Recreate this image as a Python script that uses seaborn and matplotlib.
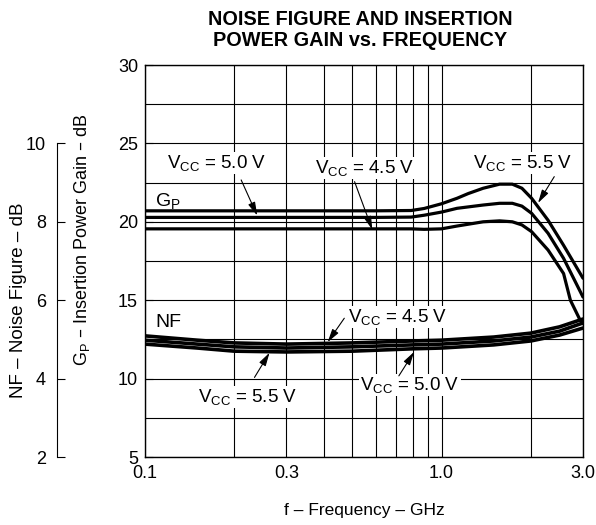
# noise figure / insertion power gain vs frequency

import pandas as pd
import seaborn as sns
import matplotlib.pyplot as plt
from matplotlib.ticker import FixedLocator, MultipleLocator, NullFormatter

# Insertion power gain Gp (dB) for each supply voltage
freq_gp_55 = [0.1, 0.2, 0.4, 0.6, 0.79, 0.874, 1.0, 1.128, 1.23, 1.382, 1.57, 1.733, 1.867, 2.013, 2.287, 2.58, 3.0]
gp_55 = [20.7, 20.7, 20.7, 20.7, 20.72, 20.85, 21.15, 21.5, 21.8, 22.14, 22.4, 22.4, 22.14, 21.5, 20.1, 18.5, 16.4]

freq_gp_50 = [0.1, 0.2, 0.4, 0.6, 0.79, 0.874, 1.0, 1.128, 1.382, 1.57, 1.733, 1.867, 2.013, 2.287, 2.58, 3.0]
gp_50 = [20.28, 20.28, 20.28, 20.28, 20.3, 20.42, 20.62, 20.86, 21.07, 21.18, 21.18, 21.0, 20.54, 19.27, 17.67, 15.2]

freq_gp_45 = [0.1, 0.2, 0.4, 0.6, 0.79, 0.874, 1.0, 1.128, 1.382, 1.57, 1.733, 1.867, 2.013, 2.287, 2.58, 2.72, 2.93, 3.0]
gp_45 = [19.55, 19.55, 19.55, 19.55, 19.55, 19.52, 19.55, 19.73, 20.0, 20.06, 20.0, 19.8, 19.37, 18.2, 16.7, 15.0, 13.75, 13.5]

# Noise figure NF (dB)
freq_nf = [0.1, 0.15, 0.2, 0.3, 0.5, 0.8, 1.0, 1.5, 2.0, 2.5, 3.0]
nf_45 = [5.09, 4.98, 4.91, 4.88, 4.91, 4.96, 4.98, 5.06, 5.16, 5.32, 5.52]
nf_50 = [4.98, 4.88, 4.81, 4.78, 4.81, 4.86, 4.88, 4.96, 5.06, 5.21, 5.42]
nf_55 = [4.88, 4.78, 4.70, 4.68, 4.70, 4.76, 4.78, 4.86, 4.96, 5.11, 5.29]

x_ticks = [0.1, 0.3, 1.0, 3.0]
x_ticklabels = ['0.1', '0.3', '1.0', '3.0']
x_minor = [0.2, 0.4, 0.5, 0.6, 0.7, 0.8, 0.9, 2.0]
gp_ticks = [5, 10, 15, 20, 25, 30]
nf_ticks = [2, 4, 6, 8, 10]

gp_df = pd.concat([
    pd.DataFrame({'f': freq_gp_55, 'val': gp_55, 'vcc': '5.5 V'}),
    pd.DataFrame({'f': freq_gp_50, 'val': gp_50, 'vcc': '5.0 V'}),
    pd.DataFrame({'f': freq_gp_45, 'val': gp_45, 'vcc': '4.5 V'}),
])
nf_df = pd.concat([
    pd.DataFrame({'f': freq_nf, 'val': nf_45, 'vcc': '4.5 V'}),
    pd.DataFrame({'f': freq_nf, 'val': nf_50, 'vcc': '5.0 V'}),
    pd.DataFrame({'f': freq_nf, 'val': nf_55, 'vcc': '5.5 V'}),
])
pal = {'4.5 V': 'black', '5.0 V': 'black', '5.5 V': 'black'}

sns.set_style('white')
plt.rcParams['font.family'] = ['Liberation Sans', 'DejaVu Sans']
plt.rcParams['mathtext.default'] = 'regular'
plt.rcParams['text.color'] = 'black'
plt.rcParams['axes.labelcolor'] = 'black'
plt.rcParams['xtick.color'] = 'black'
plt.rcParams['ytick.color'] = 'black'

fig = plt.figure(figsize=(5.96, 5.25), dpi=100)
ax = fig.add_axes([145 / 596, 1 - 457 / 525, 438 / 596, 392 / 525])

sns.lineplot(data=gp_df, x='f', y='val', hue='vcc', palette=pal, lw=2.3,
             legend=False, ax=ax, zorder=4)

ax.set_xscale('log')
ax.set_xlim(0.1, 3.0)
ax.set_ylim(5, 30)
ax.set_xticks(x_ticks)
ax.set_xticklabels(x_ticklabels)
ax.xaxis.set_minor_locator(FixedLocator(x_minor))
ax.xaxis.set_minor_formatter(NullFormatter())
ax.set_yticks(gp_ticks)
ax.yaxis.set_minor_locator(MultipleLocator(2.5))
ax.grid(True, which='both', color='black', lw=0.8)
ax.tick_params(axis='x', which='both', length=0, pad=6, labelsize=13)
ax.tick_params(axis='y', which='major', direction='in', length=6, pad=5, labelsize=13)
ax.tick_params(axis='y', which='minor', length=0)
for s in ax.spines.values():
    s.set_color('black')
    s.set_linewidth(1.0)
ax.set_xlabel('f – Frequency – GHz', fontsize=12.5)
ax.xaxis.set_label_coords(0.5, -0.117)
ax.set_ylabel(r'$\mathregular{G_P}$ – Insertion Power Gain – dB', fontsize=13)
ax.yaxis.set_label_coords(-0.121, 0.554)

# noise figure on a second axis drawn further left
ax_nf = ax.twinx()
sns.lineplot(data=nf_df, x='f', y='val', hue='vcc', palette=pal, lw=2.6,
             legend=False, ax=ax_nf)
ax_nf.set_ylim(2, 12)
ax_nf.set_xlim(0.1, 3.0)
ax_nf.set_yticks(nf_ticks)
ax_nf.yaxis.tick_left()
ax_nf.spines['left'].set_visible(True)
ax_nf.spines['left'].set_position(('outward', 63.4))
ax_nf.spines['left'].set_bounds(2, 10)
ax_nf.spines['left'].set_color('black')
for s in ['right', 'top', 'bottom']:
    ax_nf.spines[s].set_visible(False)
ax_nf.tick_params(axis='y', direction='in', length=6, pad=8, labelsize=13)
ax_nf.grid(False)
ax_nf.set_ylabel('NF – Noise Figure – dB', fontsize=13.5)
ax_nf.yaxis.set_label_position('left')
ax_nf.yaxis.set_label_coords(-0.27, 0.4)

box = dict(facecolor='white', edgecolor='none', pad=1.0)
arrow = dict(arrowstyle='-|>,head_length=0.8,head_width=0.22', lw=0.8,
             color='black', shrinkA=0, shrinkB=0, mutation_scale=10)

def vcc(v):
    return r'$\mathregular{V_{CC}}$ = ' + v

# gain labels
ax.text(0.175, 23.75, vcc('5.0 V'), ha='center', va='center', fontsize=13.5, bbox=box, zorder=5)
ax.annotate('', xy=(0.239, 20.4), xytext=(0.211, 22.67), arrowprops=arrow, zorder=6)
ax.text(0.552, 23.43, vcc('4.5 V'), ha='center', va='center', fontsize=13.5, bbox=box, zorder=5)
ax.annotate('', xy=(0.584, 19.5), xytext=(0.509, 22.56), arrowprops=arrow, zorder=6)
ax.text(1.88, 23.75, vcc('5.5 V'), ha='center', va='center', fontsize=13.5, bbox=box, zorder=5)
ax.annotate('', xy=(2.116, 21.2), xytext=(2.40, 22.88), arrowprops=arrow, zorder=6)
ax.text(0.108, 21.3, r'$\mathregular{G_P}$', ha='left', va='center', fontsize=14, zorder=5)
ax.text(0.108, 13.6, 'NF', ha='left', va='center', fontsize=14, zorder=5)

# noise figure labels
ax_nf.text(0.711, 5.57, vcc('4.5 V'), ha='center', va='center', fontsize=13.5, bbox=box, zorder=5)
ax_nf.annotate('', xy=(0.413, 4.93), xytext=(0.47, 5.54), arrowprops=arrow, zorder=6)
ax_nf.text(0.222, 3.53, vcc('5.5 V'), ha='center', va='center', fontsize=13.5, bbox=box, zorder=5)
ax_nf.annotate('', xy=(0.263, 4.66), xytext=(0.234, 4.03), arrowprops=arrow, zorder=6)
ax_nf.text(0.782, 3.84, vcc('5.0 V'), ha='center', va='center', fontsize=13.5, bbox=box, zorder=5)
ax_nf.annotate('', xy=(0.808, 4.68), xytext=(0.718, 4.07), arrowprops=arrow, zorder=6)

fig.text(360 / 596, 1 - 30 / 525, 'NOISE FIGURE AND INSERTION\nPOWER GAIN vs. FREQUENCY',
         ha='center', va='center', fontsize=14.3, fontweight='bold', linespacing=1.12)

fig.savefig('out.png', dpi=100)
